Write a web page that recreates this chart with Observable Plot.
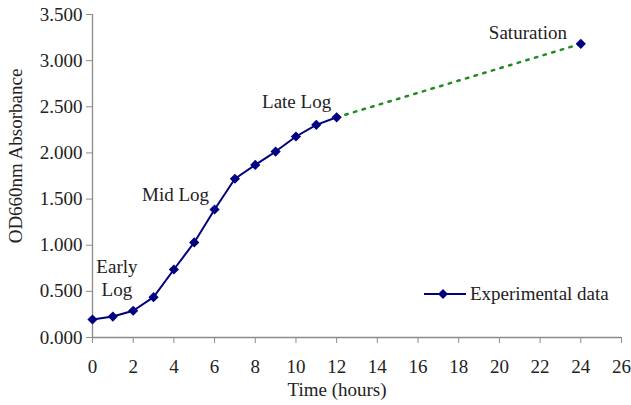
<!DOCTYPE html>
<html>
<head>
<meta charset="utf-8">
<script src="https://cdn.jsdelivr.net/npm/d3@7"></script>
<script src="https://cdn.jsdelivr.net/npm/@observablehq/plot@0.6"></script>
<style>
  html, body { margin: 0; padding: 0; background: #fff; }
  #wrap { position: relative; width: 631px; height: 405px; font-family: "Liberation Serif", "Times New Roman", serif; color: #222; }
  #legend { position: absolute; left: 424px; top: 282px; display: flex; align-items: center; font-size: 19px; white-space: nowrap; }
  #legend svg { display: block; margin-right: 4px; }
</style>
</head>
<body>
<div id="wrap"></div>
<script>
// Experimental data
const hours = [0, 1, 2, 3, 4, 5, 6, 7, 8, 9, 10, 11, 12, 24];
const od = [0.195, 0.227, 0.290, 0.437, 0.737, 1.030, 1.387, 1.720, 1.870, 2.015, 2.178, 2.304, 2.386, 3.182];
// measured (solid) part and extrapolated (dotted) part
const solidHours = [0, 1, 2, 3, 4, 5, 6, 7, 8, 9, 10, 11, 12];
const dottedHours = [12, 24];
// Ticks
const xTicks = [0, 2, 4, 6, 8, 10, 12, 14, 16, 18, 20, 22, 24, 26];
const yTicks = [0, 0.5, 1.0, 1.5, 2.0, 2.5, 3.0, 3.5];
// Phase annotations
const noteText = ["Early", "Log", "Mid Log", "Late Log", "Saturation"];
const noteX = [1.20, 1.20, 4.08, 10.03, 21.40];
const noteY = [0.769, 0.520, 1.55, 2.55, 3.30];

const rows = hours.map((h, i) => ({h, v: od[i]}));
const solid = rows.filter(d => solidHours.includes(d.h));
const dotted = rows.filter(d => dottedHours.includes(d.h));
const notes = noteText.map((t, i) => ({t, x: noteX[i], y: noteY[i]}));

const navy = "#000080";
const axisGray = "#8c8c8c";

const chart = Plot.plot({
  width: 631,
  height: 405,
  marginLeft: 92,
  marginRight: 10,
  marginTop: 14,
  marginBottom: 68,
  style: {fontFamily: "Liberation Serif, Times New Roman, serif", fontSize: "19px", color: "#222", background: "#fff"},
  x: {domain: [0, 26]},
  y: {domain: [0, 3.5]},
  marks: [
    Plot.axisX({ticks: xTicks, tickSize: 6, tickPadding: 16, stroke: axisGray, label: null, tickFormat: d => String(d)}),
    Plot.axisY({ticks: yTicks, tickSize: 6, tickPadding: 4, stroke: axisGray, label: null, tickFormat: d3.format(".3f")}),
    Plot.ruleY([0], {stroke: axisGray, strokeWidth: 1.3}),
    Plot.ruleX([0], {stroke: axisGray, strokeWidth: 1.3}),
    Plot.text(["Time (hours)"], {frameAnchor: "bottom", dy: 58, dx: -20, fill: "#222"}),
    Plot.text(["OD660nm Absorbance"], {frameAnchor: "left", textAnchor: "middle", dx: -77, dy: -20, rotate: -90, fill: "#222"}),
    Plot.line(dotted, {x: "h", y: "v", stroke: "#228b22", strokeWidth: 2.5, strokeDasharray: "2.5,6.5"}),
    Plot.line(solid, {x: "h", y: "v", stroke: navy, strokeWidth: 2}),
    Plot.dot(rows, {x: "h", y: "v", symbol: "diamond2", r: 4.6, fill: navy, stroke: "none"}),
    Plot.text(notes, {x: "x", y: "y", text: "t", fill: "#222"})
  ]
});

const wrap = document.getElementById("wrap");
wrap.appendChild(chart);
const legend = document.createElement("div");
legend.id = "legend";
legend.innerHTML = `<svg width="42" height="24"><line x1="0" y1="12" x2="42" y2="12" stroke="${navy}" stroke-width="2"/><path d="M19,7 L24,12 L19,17 L14,12 Z" fill="${navy}"/></svg><span>Experimental data</span>`;
wrap.appendChild(legend);
</script>
</body>
</html>
